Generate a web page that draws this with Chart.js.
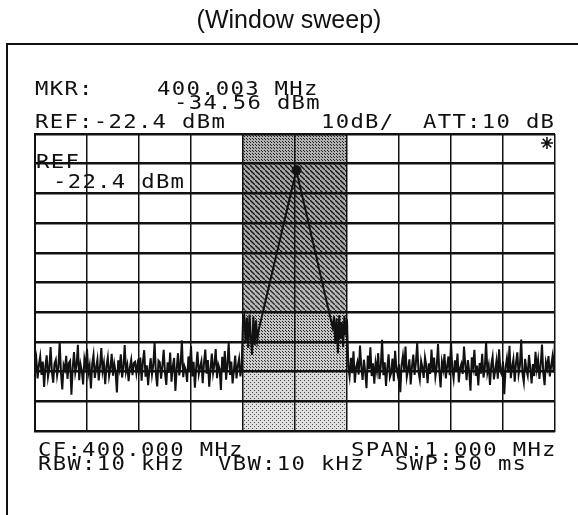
<!DOCTYPE html>
<html>
<head>
<meta charset="utf-8">
<script src="https://cdn.jsdelivr.net/npm/chart.js@4.4.1/dist/chart.umd.min.js"></script>
<style>
  html, body { margin: 0; padding: 0; background: #fff; }
  #wrap { width: 578px; height: 515px; }
</style>
</head>
<body>
<div id="wrap"><canvas id="c" width="578" height="515"></canvas></div>
<script>
// --- sweep data (frequency in MHz, level in dBm), 401 points over 1 MHz span ---
const freqTicks = [399.5, 399.6, 399.7, 399.8, 399.9, 400.0, 400.1, 400.2, 400.3, 400.4, 400.5];
const levelTicks = [-122.4, -112.4, -102.4, -92.4, -82.4, -72.4, -62.4, -52.4, -42.4, -32.4, -22.4];
const sweepStart = 399.5;
const sweepStep = 0.0025;

// 399.5000 .. 399.8975
const leftNoise = [
  -101.4, -98.2, -104.7, -100.1, -97.3, -103.5, -99.0, -107.6, -100.8, -96.9,
  -104.2, -101.3, -94.1, -102.5, -106.1, -99.7, -98.4, -103.8, -100.9, -92.3,
  -103.1, -108.4, -100.2, -101.7, -97.1, -104.9, -99.5, -98.8, -110.2, -101.2,
  -95.8, -102.7, -100.0, -93.4, -105.3, -99.9, -102.1, -106.7, -98.1, -100.7,
  -94.7, -103.0, -100.4, -108.1, -99.8, -96.8, -104.5, -101.1, -98.3, -105.4,
  -100.6, -94.5, -102.2, -99.5, -106.6, -100.5, -97.6, -103.9, -101.2, -96.4,
  -103.8, -99.8, -102.6, -109.4, -98.6, -101.4, -96.6, -104.4, -100.9, -93.5,
  -102.4, -100.2, -105.6, -100.9, -98.4, -103.6, -99.5, -99.1, -103.0, -99.7,
  -101.8, -97.7, -105.5, -99.0, -95.2, -104.1, -100.3, -107.0, -101.6, -97.9,
  -103.4, -100.1, -92.6, -103.3, -107.4, -98.7, -99.2, -104.8, -100.4, -95.1,
  -102.9, -106.9, -99.3, -102.8, -96.0, -105.8, -100.7, -97.8, -108.9, -101.5,
  -96.2, -103.7, -99.6, -91.9, -104.3, -100.6, -101.9, -105.9, -97.3, -102.0,
  -93.8, -104.0, -99.1, -107.8, -101.0, -95.7, -103.2, -100.8, -98.9, -106.3,
  -99.4, -95.0, -103.1, -98.5, -107.5, -101.8, -96.3, -102.9, -99.9, -94.8,
  -104.6, -100.0, -101.5, -108.6, -97.4, -102.3, -95.5, -105.1, -99.7, -92.8,
  -103.5, -99.0, -106.4, -102.0, -97.0, -104.7, -100.5, -98.0, -104.0, -100.3
];
// 399.9000 .. 400.1000 (window sweep)
const windowTrace = [
  -85.0, -83.5, -92.8, -84.2, -94.4, -83.2, -90.9, -96.8, -83.9, -93.5, -85.1, -91.7,
  -88.5, -86.6, -84.8, -82.9, -81.1, -79.2, -77.3, -75.5, -73.6, -71.8,
  -69.9, -68.0, -66.2, -64.3, -62.5, -60.6, -58.8, -56.9, -55.0, -53.2,
  -51.3, -49.5, -47.6, -45.7, -43.9, -42.0, -40.2, -38.3, -36.5, -34.6,
  -36.5, -38.4, -40.3, -42.2, -44.0, -45.9, -47.8, -49.7, -51.6, -53.5,
  -55.4, -57.3, -59.2, -61.1, -63.0, -64.9, -66.8, -68.7, -70.6, -72.5,
  -74.4, -76.3, -78.2, -80.1, -82.0, -83.9, -85.7, -87.6,
  -83.8, -93.1, -84.5, -96.3, -83.4, -91.4, -85.7, -94.2, -83.6, -90.2,
  -84.8
];
// 400.1025 .. 400.5000
const rightNoise = [
  -100.7, -104.0, -97.8, -102.9, -95.6, -106.1, -101.0, -99.2, -103.4, -93.6,
  -100.9, -105.2, -98.4, -102.6, -108.0, -97.0, -101.6, -94.2, -103.9, -99.6,
  -106.5, -99.4, -102.3, -96.2, -104.9, -100.6, -91.7, -103.6, -99.3, -107.2,
  -101.1, -96.6, -104.3, -102.8, -98.0, -105.6, -95.4, -101.3, -103.5, -99.9,
  -109.3, -100.2, -97.1, -102.0, -94.0, -104.2, -101.8, -98.3, -106.7, -100.6,
  -96.7, -103.5, -99.4, -92.8, -102.4, -105.1, -98.8, -101.0, -104.5, -97.6,
  -100.4, -106.3, -99.6, -103.2, -95.0, -102.4, -97.7, -104.1, -100.9, -93.1,
  -102.1, -107.7, -99.1, -101.6, -96.5, -104.7, -100.7, -97.3, -103.6, -92.5,
  -101.5, -104.8, -98.6, -102.1, -96.3, -106.0, -101.2, -99.8, -103.2, -94.0,
  -100.1, -105.3, -98.5, -102.5, -108.8, -97.6, -100.8, -95.1, -103.8, -100.4,
  -107.1, -99.5, -103.1, -96.4, -104.4, -101.4, -92.2, -102.7, -100.3, -106.9,
  -100.0, -97.4, -105.0, -101.9, -98.7, -104.8, -94.9, -102.2, -103.3, -99.0,
  -110.0, -101.1, -97.9, -102.7, -93.7, -104.6, -100.9, -98.2, -105.8, -99.6,
  -95.9, -103.3, -100.4, -91.6, -103.1, -106.0, -98.1, -101.7, -103.7, -96.8,
  -101.2, -106.4, -99.9, -103.9, -95.7, -101.5, -98.4, -104.9, -100.1, -93.3,
  -102.9, -107.0, -99.2, -101.3, -97.2, -104.0, -100.6, -97.5, -102.8, -91.4
];
const markerFreq = [400.003];
const markerLevel = [-34.56];
const windowBand = [399.9, 400.1];

const levels = leftNoise.concat(windowTrace, rightNoise);
const tracePoints = levels.map((v, i) => ({ x: +(sweepStart + i * sweepStep).toFixed(4), y: v }));
const markerPoints = markerFreq.map((f, i) => ({ x: f, y: markerLevel[i] }));

// --- screen texts ---
const screenText = [
  { t: 'MKR:', x: 35, y: 95 },
  { t: '400.003 MHz', x: 157, y: 95 },
  { t: '-34.56 dBm', x: 174, y: 108.5 },
  { t: 'REF:-22.4 dBm', x: 35, y: 128 },
  { t: '10dB/', x: 321, y: 128 },
  { t: 'ATT:10 dB', x: 423, y: 128 },
  { t: 'REF', x: 36, y: 168 },
  { t: '-22.4 dBm', x: 53, y: 188 },
  { t: 'CF:400.000 MHz', x: 38, y: 456 },
  { t: 'SPAN:1.000 MHz', x: 351, y: 456 },
  { t: 'RBW:10 kHz', x: 38, y: 470 },
  { t: 'VBW:10 kHz', x: 218, y: 470 },
  { t: 'SWP:50 ms', x: 395, y: 470 }
];

// --- textures for the window band ---
function hatch(bg, fg) {
  const c = document.createElement('canvas'); c.width = c.height = 5;
  const g = c.getContext('2d');
  g.fillStyle = bg; g.fillRect(0, 0, 5, 5);
  g.strokeStyle = fg; g.lineWidth = 1.3;
  g.beginPath(); g.moveTo(-1, -1); g.lineTo(6, 6); g.stroke();
  return g.createPattern(c, 'repeat');
}
function dots(bg, fg, n) {
  const c = document.createElement('canvas'); c.width = c.height = n;
  const g = c.getContext('2d');
  g.fillStyle = bg; g.fillRect(0, 0, n, n);
  g.fillStyle = fg; g.fillRect(0, 0, 1, 1); g.fillRect(Math.floor(n / 2), Math.floor(n / 2), 1, 1);
  return g.createPattern(c, 'repeat');
}
const bandFills = [
  dots('#b0b0b0', '#222', 3),
  hatch('#a8a8a8', '#111'),
  hatch('#a8a8a8', '#111'),
  hatch('#a8a8a8', '#111'),
  hatch('#b0b0b0', '#1a1a1a'),
  hatch('#bababa', '#2a2a2a'),
  dots('#c4c4c4', '#222', 3),
  dots('#cecece', '#333', 3),
  dots('#dadada', '#444', 4),
  dots('#e0e0e0', '#555', 4)
];

const screenPlugin = {
  id: 'screen',
  beforeDraw(chart) {
    const ctx = chart.ctx;
    const xs = chart.scales.x, ys = chart.scales.y;
    ctx.save();
    ctx.fillStyle = '#fff';
    ctx.fillRect(0, 0, chart.width, chart.height);
    // outer frame
    ctx.strokeStyle = '#111'; ctx.lineWidth = 2;
    ctx.beginPath(); ctx.moveTo(7, chart.height); ctx.lineTo(7, 44); ctx.lineTo(chart.width, 44); ctx.stroke();
    // window sweep band
    const x0 = xs.getPixelForValue(windowBand[0]);
    const x1 = xs.getPixelForValue(windowBand[1]);
    const n = levelTicks.length;
    for (let r = 0; r < n - 1; r++) {
      const yTop = ys.getPixelForValue(levelTicks[n - 1 - r]);
      const yBot = ys.getPixelForValue(levelTicks[n - 2 - r]);
      ctx.fillStyle = bandFills[r];
      ctx.fillRect(x0, yTop, x1 - x0, yBot - yTop);
    }
    ctx.restore();
  },
  afterDraw(chart) {
    const ctx = chart.ctx;
    ctx.save();
    ctx.fillStyle = '#111';
    ctx.font = '25px "Liberation Sans", Arial, sans-serif';
    ctx.textAlign = 'center';
    ctx.fillText('(Window sweep)', 289, 28);
    ctx.textAlign = 'left';
    ctx.font = '21px "DejaVu Sans Mono", monospace';
    const adv = 14.7;
    screenText.forEach(s => {
      [...s.t].forEach((ch, i) => {
        ctx.save();
        ctx.translate(s.x + i * adv, s.y);
        ctx.scale(1.06, 0.96);
        ctx.fillText(ch, 0, 0);
        ctx.restore();
      });
    });
    // asterisk in the top right cell
    ctx.strokeStyle = '#111'; ctx.lineWidth = 1.6;
    const cx = 547, cy = 143, r = 6;
    ctx.beginPath();
    for (let k = 0; k < 4; k++) {
      const a = k * Math.PI / 4;
      ctx.moveTo(cx - r * Math.sin(a), cy - r * Math.cos(a));
      ctx.lineTo(cx + r * Math.sin(a), cy + r * Math.cos(a));
    }
    ctx.stroke();
    ctx.restore();
  }
};

new Chart(document.getElementById('c'), {
  type: 'line',
  data: {
    datasets: [
      { data: markerPoints, borderColor: '#111', backgroundColor: '#111', pointRadius: 4.5, showLine: false },
      { data: tracePoints, borderColor: '#111', borderWidth: 2, pointRadius: 0, tension: 0 }
    ]
  },
  options: {
    responsive: false,
    animation: false,
    devicePixelRatio: 1,
    layout: { padding: { left: 35, top: 134, right: 23, bottom: 84 } },
    plugins: { legend: { display: false }, tooltip: { enabled: false }, title: { display: false } },
    scales: {
      x: {
        type: 'linear', min: 399.5, max: 400.5,
        afterBuildTicks: axis => { axis.ticks = freqTicks.map(v => ({ value: v })); },
        ticks: { display: false },
        grid: { color: '#111', lineWidth: 1.5, drawTicks: false },
        border: { color: '#111', width: 2 }
      },
      y: {
        type: 'linear', min: -122.4, max: -22.4,
        afterBuildTicks: axis => { axis.ticks = levelTicks.map(v => ({ value: v })); },
        ticks: { display: false },
        grid: { color: '#111', lineWidth: 2.5, drawTicks: false },
        border: { color: '#111', width: 2 }
      }
    }
  },
  plugins: [screenPlugin]
});
</script>
</body>
</html>
